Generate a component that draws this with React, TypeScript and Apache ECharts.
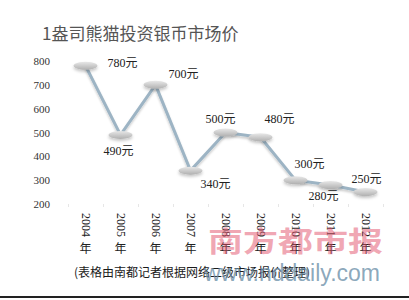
import React, { useEffect, useRef } from "react";
import * as echarts from "echarts";

// Market price of the 1 oz Panda silver investment coin
const years = ["2004", "2005", "2006", "2007", "2008", "2009", "2010", "2011", "2012"];
const prices = [780, 490, 700, 340, 500, 480, 300, 280, 250];
// label offsets (dx, dy) relative to each point
const labelOffsets: [number, number][] = [
  [37, -3],
  [-2, 16],
  [28, -11],
  [25, 13],
  [-5, -14],
  [19, -18],
  [14, -16],
  [-7, 11],
  [1, -13],
];
const yTicks = { min: 200, max: 800, interval: 100 };

const titleText = "1盎司熊猫投资银币市场价";
const noteText = "(表格由南都记者根据网络二级市场报价整理)";
const brandText = "南方都市报";
const siteText = "www.nddaily.com";

export default function App() {
  const ref = useRef<HTMLDivElement>(null);

  useEffect(() => {
    if (!ref.current) return;
    const chart = echarts.init(ref.current, undefined, { renderer: "svg" });
    const serif = '"Liberation Serif", "Noto Sans CJK SC", serif';
    const cjk = '"Noto Sans CJK SC", sans-serif';

    chart.setOption({
      animation: false,
      backgroundColor: "#ffffff",
      title: {
        text: titleText,
        left: 37,
        top: 19,
        textStyle: { fontSize: 17, fontWeight: "normal", color: "#555555", fontFamily: cjk },
      },
      grid: { left: 68, width: 315, top: 61, height: 143 },
      xAxis: [
        {
          type: "category",
          data: years,
          position: "bottom",
          axisLine: { show: false },
          axisTick: { show: true, length: 3, lineStyle: { color: "#e6e6e6" } },
          axisLabel: {
            rotate: -90,
            margin: 9,
            fontSize: 12,
            color: "#222222",
            fontFamily: serif,
          },
        },
        {
          type: "category",
          data: years,
          position: "bottom",
          axisLine: { show: false },
          axisTick: { show: false },
          axisLabel: {
            margin: 37,
            fontSize: 12,
            color: "#222222",
            fontFamily: cjk,
            formatter: () => "年",
          },
        },
      ],
      yAxis: {
        type: "value",
        min: yTicks.min,
        max: yTicks.max,
        interval: yTicks.interval,
        axisLine: { show: false },
        axisTick: { show: false },
        splitLine: { show: false },
        axisLabel: { margin: 18, fontSize: 11, color: "#333333", fontFamily: serif },
      },
      series: [
        {
          type: "line",
          xAxisIndex: 0,
          data: prices.map((v, i) => ({
            value: v,
            label: { offset: labelOffsets[i] },
          })),
          symbol: "circle",
          symbolSize: [24, 8],
          lineStyle: {
            color: "#9db4c4",
            width: 3,
            shadowColor: "rgba(0,0,0,0.2)",
            shadowBlur: 2,
            shadowOffsetY: 2,
          },
          itemStyle: {
            color: new echarts.graphic.LinearGradient(0, 0, 0, 1, [
              { offset: 0, color: "#e8e8e8" },
              { offset: 1, color: "#b0b0b0" },
            ]),
            borderWidth: 0,
            shadowColor: "rgba(0,0,0,0.22)",
            shadowBlur: 3,
            shadowOffsetY: 2,
          },
          label: {
            show: true,
            position: "inside",
            formatter: (p: any) => `${p.value}元`,
            fontSize: 12,
            color: "#222222",
            fontFamily: serif,
          },
          z: 3,
        },
      ],
      graphic: [
        {
          type: "text",
          left: 208,
          top: 226,
          scaleY: 0.8,
          style: {
            text: brandText,
            fontSize: 35,
            fontWeight: "bold",
            fontFamily: cjk,
            fill: "rgba(225, 80, 105, 0.5)",
          },
          z: 10,
        },
        {
          type: "text",
          left: 74,
          top: 265,
          style: {
            text: noteText,
            fontSize: 12,
            fontFamily: cjk,
            fill: "#1a1a1a",
          },
          z: 11,
        },
        {
          type: "text",
          left: 204,
          top: 261,
          style: {
            text: siteText,
            fontSize: 23,
            fontFamily: '"Liberation Sans", Arial, sans-serif',
            fill: "rgba(110, 145, 170, 0.8)",
          },
          z: 12,
        },
        {
          type: "rect",
          left: 0,
          top: 296,
          shape: { width: 409, height: 2 },
          style: { fill: "#222222" },
          z: 13,
        },
      ],
    });

    return () => chart.dispose();
  }, []);

  return (
    <div
      ref={ref}
      style={{ position: "absolute", left: 0, top: 0, width: 409, height: 300 }}
    />
  );
}
